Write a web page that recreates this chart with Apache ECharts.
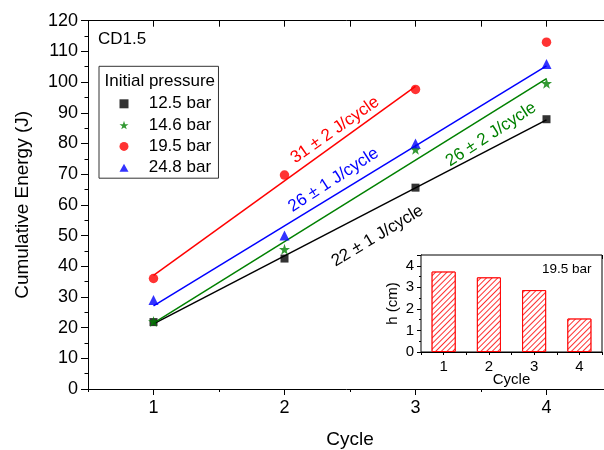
<!DOCTYPE html>
<html>
<head>
<meta charset="utf-8">
<script src="https://cdn.jsdelivr.net/npm/echarts@6/dist/echarts.min.js"></script>
<style>
html, body { margin: 0; padding: 0; background: #fff; }
#chart { width: 604px; height: 450px; }
</style>
</head>
<body>
<div id="chart"></div>
<script>
const cycles = [1, 2, 3, 4];
const energy125 = [21.8, 42.5, 65.6, 87.9];
const energy146 = [22.0, 45.5, 78.1, 99.6];
const energy195 = [36.0, 69.7, 97.6, 113.0];
const energy248 = [29.0, 50.0, 80.0, 105.9];
// fit lines, end points
const fit125 = [[1, 21.2], [4, 87.7]];
const fit146 = [[1, 21.5], [4, 101.1]];
const fit195 = [[1, 37.0], [3, 98.6]];
const fit248 = [[1, 27.1], [4, 105.3]];
const xTickLabels = [1, 2, 3, 4];
// inset: height per cycle at 19.5 bar
const heightCycles = [1, 2, 3, 4];
const heights = [3.73, 3.46, 2.87, 1.55];
const insetYLabels = [0, 1, 2, 3, 4];

const font = 'Liberation Sans, Arial, sans-serif';
const star = 'path://M50,0 L61.8,35.1 L98.1,35.1 L68.7,56.8 L79.4,91 L50,70 L20.6,91 L31.3,56.8 L1.9,35.1 L38.2,35.1 Z';
const square = 'path://M0,0 H10 V10 H0 Z';
const tri = 'path://M5,0 L10,9 L0,9 Z';

const toPoints = (ys) => cycles.map((c, i) => [c, ys[i]]);

const chart = echarts.init(document.getElementById('chart'));

const scatter = (name, ys, symbol, size, color) => ({
    name: name,
    type: 'scatter',
    data: toPoints(ys),
    symbol: symbol,
    symbolSize: size,
    itemStyle: { color: color },
    z: 4
});
const fitLine = (pts, color) => ({
    type: 'line',
    data: pts,
    symbol: 'none',
    lineStyle: { color: color, width: 1.5 },
    silent: true,
    z: 3
});
const note = (text, x, y, deg, color) => ({
    type: 'text',
    x: x,
    y: y,
    rotation: deg * Math.PI / 180,
    style: { text: text, fill: color, font: '17px ' + font, textAlign: 'center', textVerticalAlign: 'middle' }
});

chart.setOption({
    animation: false,
    backgroundColor: '#fff',
    grid: [
        { left: 88, top: 20.7, width: 524, height: 368.3, outerBoundsMode: 'none' },
        { left: 421, top: 255, width: 181, height: 97, outerBoundsMode: 'none',
          show: true, backgroundColor: '#fff', borderColor: '#000', borderWidth: 1, z: 5 }
    ],
    xAxis: [
        {
            type: 'value', gridIndex: 0, position: 'bottom', min: 0.5, max: 4.5,
            name: 'Cycle', nameLocation: 'middle', nameGap: 41, nameMoveOverlap: false,
            nameTextStyle: { color: '#000', fontSize: 19, fontFamily: font },
            axisLine: { lineStyle: { color: '#000', width: 1 } },
            axisTick: { customValues: xTickLabels, length: 6, lineStyle: { color: '#000' } },
            axisLabel: { customValues: xTickLabels, color: '#000', fontSize: 18, fontFamily: font, margin: 10 },
            splitLine: { show: false }
        },
        {
            type: 'value', gridIndex: 0, position: 'bottom', min: 0.5, max: 4.5, interval: 0.5,
            axisLine: { show: false },
            axisTick: { length: 3, lineStyle: { color: '#000' } },
            axisLabel: { show: false },
            splitLine: { show: false }
        },
        {
            type: 'value', gridIndex: 0, position: 'top', min: 0.5, max: 4.5, interval: 0.5,
            axisLine: { lineStyle: { color: '#000', width: 1 } },
            axisTick: { inside: true, length: 6, lineStyle: { color: '#000' } },
            axisLabel: { show: false },
            splitLine: { show: false }
        },
        {
            type: 'value', gridIndex: 1, position: 'bottom', min: 0.5, max: 4.5, interval: 0.5,
            name: 'Cycle', nameLocation: 'middle', nameGap: 20, nameMoveOverlap: false,
            nameTextStyle: { color: '#000', fontSize: 15, fontFamily: font },
            axisLine: { lineStyle: { color: '#000', width: 1 } },
            axisTick: { length: 3, lineStyle: { color: '#000' } },
            axisLabel: { customValues: xTickLabels, color: '#000', fontSize: 15, fontFamily: font, margin: 7 },
            splitLine: { show: false }
        },
        {
            type: 'value', gridIndex: 1, position: 'top', min: 0.5, max: 4.5, interval: 0.5,
            axisLine: { lineStyle: { color: '#000', width: 1 } },
            axisTick: { inside: true, length: 4, lineStyle: { color: '#000' } },
            axisLabel: { show: false },
            splitLine: { show: false }
        }
    ],
    yAxis: [
        {
            type: 'value', gridIndex: 0, min: 0, max: 120, interval: 10,
            name: 'Cumulative Energy (J)', nameLocation: 'middle', nameGap: 56, nameMoveOverlap: false,
            nameTextStyle: { color: '#000', fontSize: 19, fontFamily: font },
            axisLine: { show: true, lineStyle: { color: '#000', width: 1 } },
            axisTick: { show: true, length: 7, lineStyle: { color: '#000' } },
            minorTick: { show: true, splitNumber: 2, length: 3.5, lineStyle: { color: '#000' } },
            axisLabel: { color: '#000', fontSize: 18, fontFamily: font, margin: 10 },
            splitLine: { show: false }
        },
        {
            type: 'value', gridIndex: 1, min: 0, max: 4.5, interval: 1,
            name: 'h (cm)', nameLocation: 'middle', nameGap: 21, nameMoveOverlap: false,
            nameTextStyle: { color: '#000', fontSize: 15, fontFamily: font },
            axisLine: { show: true, lineStyle: { color: '#000', width: 1 } },
            axisTick: { show: true, length: 4, lineStyle: { color: '#000' } },
            minorTick: { show: true, splitNumber: 2, length: 2, lineStyle: { color: '#000' } },
            axisLabel: { customValues: insetYLabels, color: '#000', fontSize: 15, fontFamily: font, margin: 7 },
            splitLine: { show: false }
        }
    ],
    legend: {
        data: [
            { name: '12.5 bar', icon: square },
            { name: '14.6 bar', icon: star },
            { name: '19.5 bar', icon: 'circle' },
            { name: '24.8 bar', icon: tri }
        ],
        orient: 'vertical',
        left: 99,
        top: 66.3,
        padding: [29, 7.4, 2, 20.5],
        itemWidth: 9,
        itemHeight: 9,
        itemGap: 4.3,
        borderColor: '#333',
        borderWidth: 1,
        textStyle: { color: '#000', fontSize: 17, fontFamily: font, padding: [0, 0, 0, 15.2] }
    },
    graphic: [
        { type: 'text', left: 98, top: 31, style: { text: 'CD1.5', fill: '#000', font: '17px ' + font } },
        { type: 'text', x: 104.5, y: 81, z: 10, style: { text: 'Initial pressure', fill: '#000', font: '17px ' + font, textVerticalAlign: 'middle' } },
        { type: 'text', x: 542, y: 269.5, z: 10, style: { text: '19.5 bar', fill: '#000', font: '13.5px ' + font, textVerticalAlign: 'middle' } },
        note('31 \u00b1 2 J/cycle', 335, 130, 35, '#ff0000'),
        note('26 \u00b1 1 J/cycle', 333.5, 180, 33, '#0000ff'),
        note('26 \u00b1 2 J/cycle', 491, 134.5, 33, '#008000'),
        note('22 \u00b1 1 J/cycle', 377.5, 236, 31, '#000')
    ],
    series: [
        fitLine(fit125, '#000'),
        fitLine(fit146, '#008000'),
        fitLine(fit195, '#ff0000'),
        fitLine(fit248, '#0000ff'),
        scatter('12.5 bar', energy125, square, 8, '#000'),
        scatter('14.6 bar', energy146, star, 11, '#008000'),
        scatter('19.5 bar', energy195, 'circle', 9.5, '#ff0000'),
        scatter('24.8 bar', energy248, tri, 10, '#0000ff'),
        {
            type: 'bar',
            xAxisIndex: 3,
            yAxisIndex: 1,
            data: heightCycles.map((c, i) => [c, heights[i]]),
            barWidth: 24,
            itemStyle: {
                color: '#fff',
                borderColor: '#ff0000',
                borderWidth: 1,
                decal: {
                    symbol: 'rect',
                    symbolSize: 1,
                    color: '#ff3030',
                    backgroundColor: '#fff',
                    dashArrayX: [1, 0],
                    dashArrayY: [1, 2.5],
                    rotation: -Math.PI / 4
                }
            },
            z: 6
        }
    ]
});
</script>
</body>
</html>
